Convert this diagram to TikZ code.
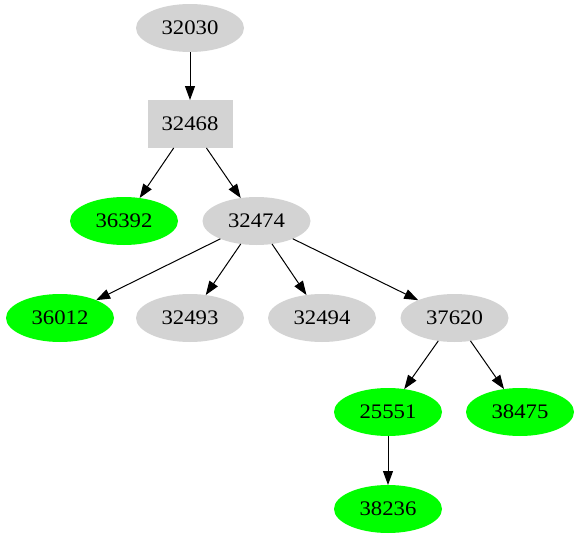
\documentclass[tikz,border=0pt]{standalone}
\usepackage{fontspec}
\newfontfamily\nodefont[FakeStretch=1.1]{Liberation Serif}
\usetikzlibrary{arrows.meta,shapes.geometric}
\definecolor{lgray}{HTML}{D3D3D3}
\definecolor{vgreen}{HTML}{00FF00}
\begin{document}
\begin{tikzpicture}[x=0.75pt,y=-0.75pt,
  base/.style={inner sep=0pt,outer sep=0pt,font=\nodefont\fontsize{15.5}{18}\selectfont},
  gnode/.style={base,ellipse,fill=lgray,minimum width=81pt,minimum height=36pt},
  grnode/.style={base,ellipse,fill=vgreen,minimum width=81pt,minimum height=36pt},
  bnode/.style={base,rectangle,fill=lgray,minimum width=63.75pt,minimum height=36pt},
  edge/.style={-{Triangle[length=10.5pt,width=7.5pt]},line width=0.75pt,black}]
\useasboundingbox (0,0) rectangle (579,539);
\node[gnode] (n32030) at (190,28) {32030};
\node[bnode] (n32468) at (190,124) {32468};
\node[grnode] (n36392) at (124,221) {36392};
\node[gnode] (n32474) at (256.5,221) {32474};
\node[grnode] (n36012) at (60,318) {36012};
\node[gnode] (n32493) at (190,318) {32493};
\node[gnode] (n32494) at (322,318) {32494};
\node[gnode] (n37620) at (454.5,318) {37620};
\node[grnode] (n25551) at (388,412) {25551};
\node[grnode] (n38475) at (520,412) {38475};
\node[grnode] (n38236) at (388,509) {38236};
\draw[edge] (n32030) -- (n32468);
\draw[edge] (n32468) -- (n36392);
\draw[edge] (n32468) -- (n32474);
\draw[edge] (n32474) -- (n36012);
\draw[edge] (n32474) -- (n32493);
\draw[edge] (n32474) -- (n32494);
\draw[edge] (n32474) -- (n37620);
\draw[edge] (n37620) -- (n25551);
\draw[edge] (n37620) -- (n38475);
\draw[edge] (n25551) -- (n38236);
\end{tikzpicture}
\end{document}
